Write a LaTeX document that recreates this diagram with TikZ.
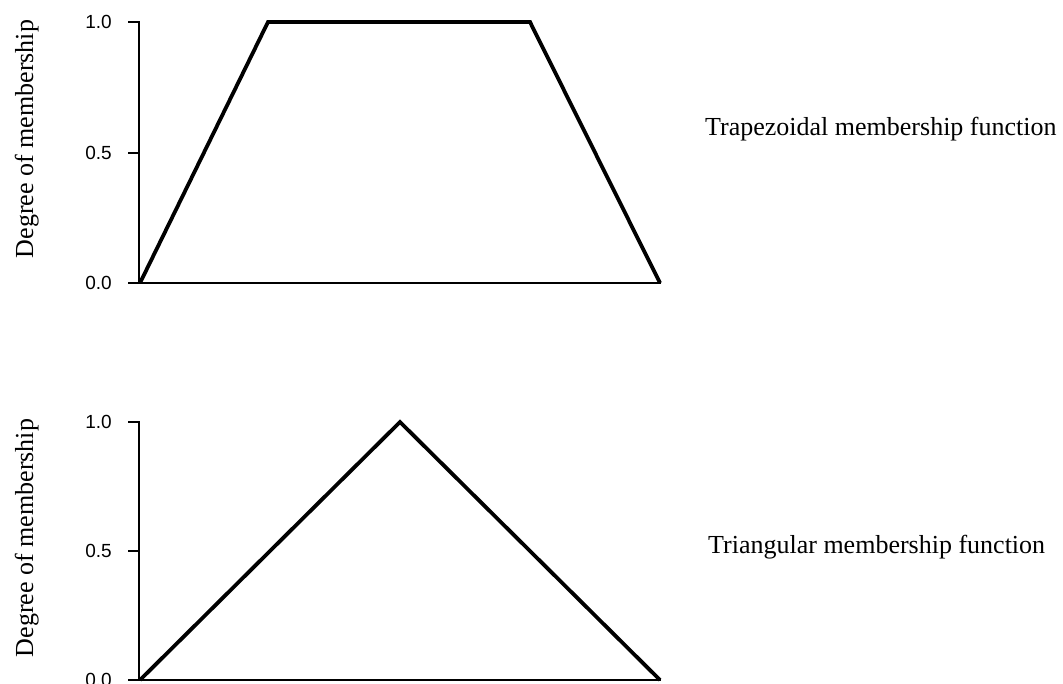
\documentclass[tikz,border=0pt]{standalone}
\usepackage{fontspec}
\setmainfont{Liberation Serif}
\newfontfamily\numfont{Liberation Sans}
\begin{document}
\begin{tikzpicture}[x=1pt,y=-1pt,
  axis/.style={line width=2.6pt, line cap=rect},
  curve/.style={line width=3.8pt, line join=miter},
  ticklab/.style={anchor=east, inner sep=0pt, font=\numfont\fontsize{19}{22}\selectfont},
  ylab/.style={rotate=90, anchor=base, inner sep=0pt, font=\fontsize{26}{30}\selectfont},
  title/.style={anchor=base west, inner sep=0pt, font=\fontsize{26}{30}\selectfont}]
\useasboundingbox (0,0) rectangle (1063,683);
% ---------- top plot ----------
\coordinate (a1) at (139,22);
\coordinate (a0) at (139,283);
\coordinate (am) at (139,153);
\coordinate (aend) at (660,283);
\coordinate (t1) at (129,22);
\coordinate (tm) at (129,153);
\coordinate (t0) at (129,283);
\coordinate (p1) at (140,283);
\coordinate (p2) at (268,22);
\coordinate (p3) at (530,22);
\coordinate (p4) at (660,283);
\draw[axis] (t1) -- (a1) -- (a0) -- (aend);
\draw[axis] (tm) -- (am);
\draw[axis] (t0) -- (a0);
\draw[curve] (p1) -- (p2) -- (p3) -- (p4);
\node[ticklab] (l1) at (112,22) {1.0};
\node[ticklab] (lm) at (112,153) {0.5};
\node[ticklab] (l0) at (112,283) {0.0};
\node[ylab] (yl1) at (33,139) {Degree of membership};
\node[title] (trap) at (705,135) {Trapezoidal membership function};
% ---------- bottom plot ----------
\coordinate (b1) at (139,422);
\coordinate (b0) at (139,680);
\coordinate (bm) at (139,551);
\coordinate (bend) at (660,680);
\coordinate (s1) at (129,422);
\coordinate (sm) at (129,551);
\coordinate (s0) at (129,680);
\coordinate (q1) at (140,680);
\coordinate (q2) at (400,422);
\coordinate (q3) at (660,680);
\draw[axis] (s1) -- (b1) -- (b0) -- (bend);
\draw[axis] (sm) -- (bm);
\draw[axis] (s0) -- (b0);
\draw[curve] (q1) -- (q2) -- (q3);
\node[ticklab] (m1) at (112,422) {1.0};
\node[ticklab] (mm) at (112,551) {0.5};
\node[ticklab] (m0) at (112,680) {0.0};
\node[ylab] (yl2) at (33,538) {Degree of membership};
\node[title] (tri) at (708,553) {Triangular membership function};
\end{tikzpicture}
\end{document}
